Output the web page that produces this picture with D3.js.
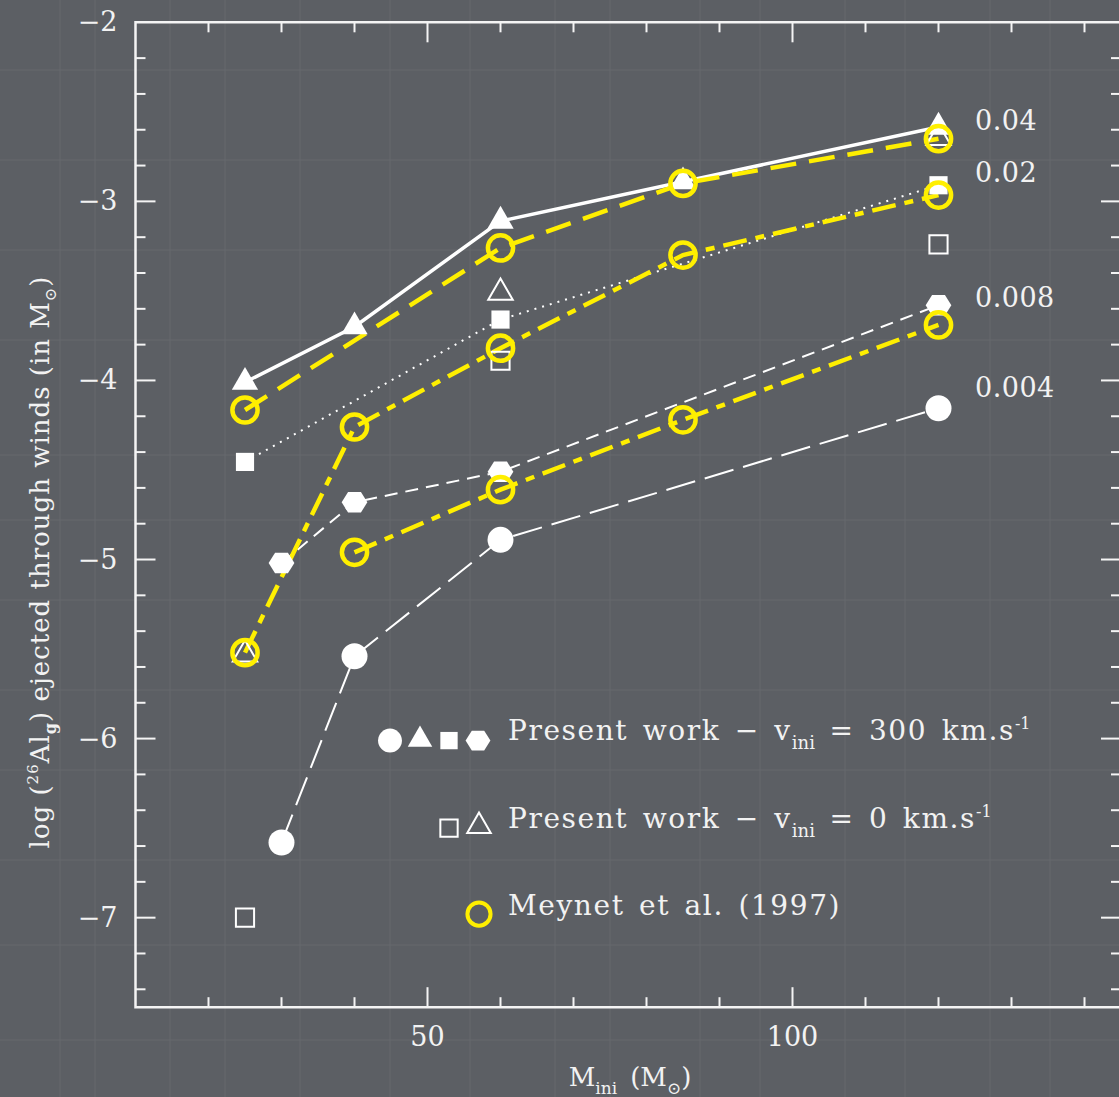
<!DOCTYPE html>
<html><head><meta charset="utf-8">
<script src="https://cdn.jsdelivr.net/npm/d3@7"></script>
<style>
html,body{margin:0;padding:0;background:#5c5f64;}
svg{display:block;}
text{font-family:"DejaVu Serif","Liberation Serif",serif;fill:#f2f2f2;}
</style></head>
<body>
<script>
// ---------- DATA ----------
const xTicksMajor = [50, 100];
const yTickLabels = [-2, -3, -4, -5, -6, -7];
const zLabels = ["0.04", "0.02", "0.008", "0.004"];
const zLabelValues = [-2.55, -2.84, -3.54, -4.04];

// Present work, v_ini = 300 km/s (filled symbols)
const rotZ004Mass = [25, 40, 60, 85, 120];
const rotZ004Val  = [-4.01, -3.70, -3.11, -2.89, -2.585];
const rotZ002Mass = [25, 60, 120];
const rotZ002Val  = [-4.455, -3.66, -2.91];
const rotZ0008Mass = [30, 40, 60, 120];
const rotZ0008Val  = [-5.02, -4.68, -4.51, -3.58];
const rotZ0004Mass = [30, 40, 60, 120];
const rotZ0004Val  = [-6.58, -5.54, -4.89, -4.155];

// Present work, v_ini = 0 (open symbols)
const norotSqMass = [25, 60, 120];
const norotSqVal  = [-7.0, -3.89, -3.24];
const norotTriMass = [25, 60, 120];
const norotTriVal  = [-5.53, -3.51, -2.645];

// Meynet et al. (1997)
const mey004Mass = [25, 60, 85, 120];
const mey004Val  = [-4.165, -3.26, -2.90, -2.65];
const mey002Mass = [25, 40, 60, 85, 120];
const mey002Val  = [-5.52, -4.26, -3.82, -3.30, -2.965];
const mey0008Mass = [40, 60, 85, 120];
const mey0008Val  = [-4.96, -4.61, -4.22, -3.69];

// ---------- CHART ----------
const W = 1119, H = 1097;
const svg = d3.select("body").append("svg").attr("width", W).attr("height", H);
svg.append("rect").attr("width", W).attr("height", H).attr("fill", "#5c5f64");

// subtle texture
const tex = svg.append("g").attr("opacity", 0.06).attr("stroke", "#ffffff");
const texX = [60, 95, 170, 225, 300, 390, 470, 555, 610, 700, 760, 845, 905, 990, 1050];
const texY = [70, 160, 250, 340, 455, 520, 600, 690, 770, 860, 945, 1040];
texX.forEach(v => tex.append("line").attr("x1", v).attr("x2", v).attr("y1", 0).attr("y2", H).attr("stroke-width", 1));
texY.forEach(v => tex.append("line").attr("x1", 0).attr("x2", W).attr("y1", v).attr("y2", v).attr("stroke-width", 1));

const x = d3.scaleLinear().domain([10, 145]).range([135.5, 1121]);
const y = d3.scaleLinear().domain([-2, -7.5]).range([22.3, 1007.2]);

const axisColor = "#f4f4f4";
const ax = svg.append("g");
ax.append("path")
  .attr("d", `M${x(145)},${y(-2)}H${x(10)}V${y(-7.5)}H${x(145)}V${y(-2)}`)
  .attr("fill", "none").attr("stroke", axisColor).attr("stroke-width", 2.5);

const xMinor = d3.range(20, 145, 10);
const yMinor = d3.range(-2.2, -7.45, -0.2);
function isMajorX(v){ return Math.abs(v % 50) < 1e-6; }
function isMajorY(v){ return Math.abs(v - Math.round(v)) < 1e-6; }
xMinor.forEach(v => {
  const L = isMajorX(v) ? 20 : 10;
  ax.append("line").attr("x1", x(v)).attr("x2", x(v)).attr("y1", y(-7.5)).attr("y2", y(-7.5) - L)
    .attr("stroke", axisColor).attr("stroke-width", 2);
  ax.append("line").attr("x1", x(v)).attr("x2", x(v)).attr("y1", y(-2)).attr("y2", y(-2) + L)
    .attr("stroke", axisColor).attr("stroke-width", 2);
});
yMinor.forEach(v => {
  const L = isMajorY(v) ? 20 : 10;
  ax.append("line").attr("x1", x(10)).attr("x2", x(10) + L).attr("y1", y(v)).attr("y2", y(v))
    .attr("stroke", axisColor).attr("stroke-width", 2);
  ax.append("line").attr("x1", x(145)).attr("x2", x(145) - L).attr("y1", y(v)).attr("y2", y(v))
    .attr("stroke", axisColor).attr("stroke-width", 2);
});
yTickLabels.forEach(v => {
  ax.append("text").attr("x", x(10) - 18).attr("y", y(v) + 9).attr("text-anchor", "end")
    .attr("font-size", 27).text("\u2212" + Math.abs(v));
});
xTicksMajor.forEach(v => {
  ax.append("text").attr("x", x(v)).attr("y", 1046).attr("text-anchor", "middle")
    .attr("font-size", 27).text(v);
});

// axis titles
const xt = svg.append("text").attr("x", 630).attr("y", 1086).attr("text-anchor", "middle").attr("font-size", 26);
xt.append("tspan").text("M");
xt.append("tspan").attr("font-size", 17).attr("dy", 8).text("ini");
xt.append("tspan").attr("dy", -8).text("\u2002(M");
xt.append("tspan").attr("font-size", 17).attr("dy", 8).text("\u2299");
xt.append("tspan").attr("dy", -8).text(")");

const yt = svg.append("text").attr("transform", "translate(49,562) rotate(-90)")
  .attr("text-anchor", "middle").attr("font-size", 26).attr("letter-spacing", 1);
yt.append("tspan").text("log (");
yt.append("tspan").attr("font-size", 15).attr("dy", -11).text("26");
yt.append("tspan").attr("dy", 11).text("Al");
yt.append("tspan").attr("font-size", 16).attr("dy", 7).attr("font-weight", "bold").text("g");
yt.append("tspan").attr("dy", -7).text(") ejected through winds (in M");
yt.append("tspan").attr("font-size", 16).attr("dy", 7).text("\u2299");
yt.append("tspan").attr("dy", -7).text(")");

// ---------- LINES ----------
const line = d3.line().x(d => x(d[0])).y(d => y(d[1]));
function zip(a, b){ return a.map((m, i) => [m, b[i]]); }
const lines = svg.append("g").attr("fill", "none").attr("stroke-linecap", "butt");

lines.append("path").attr("d", line(zip(rotZ004Mass, rotZ004Val)))
  .attr("stroke", "#ffffff").attr("stroke-width", 3.5);
lines.append("path").attr("d", line(zip(rotZ002Mass, rotZ002Val)))
  .attr("stroke", "#ffffff").attr("stroke-width", 2).attr("stroke-dasharray", "2,6");
lines.append("path").attr("d", line(zip(rotZ0008Mass, rotZ0008Val)))
  .attr("stroke", "#ffffff").attr("stroke-width", 2).attr("stroke-dasharray", "13,8");
lines.append("path").attr("d", line(zip(rotZ0004Mass, rotZ0004Val)))
  .attr("stroke", "#ffffff").attr("stroke-width", 2).attr("stroke-dasharray", "30,10");

const yellow = "#ffef00";
lines.append("path").attr("d", line(zip(mey004Mass, mey004Val)))
  .attr("stroke", yellow).attr("stroke-width", 4.5).attr("stroke-dasharray", "26,13");
lines.append("path").attr("d", line(zip(mey002Mass, mey002Val)))
  .attr("stroke", yellow).attr("stroke-width", 4.5).attr("stroke-dasharray", "24,9,9,9");
lines.append("path").attr("d", line(zip(mey0008Mass, mey0008Val)))
  .attr("stroke", yellow).attr("stroke-width", 4.5).attr("stroke-dasharray", "24,9,9,9");

// ---------- SYMBOLS ----------
const hexagon = {
  draw(ctx, size) {
    const r = Math.sqrt(size / (1.5 * Math.sqrt(3)));
    for (let i = 0; i < 6; i++) {
      const a = i * Math.PI / 3;
      const px = r * Math.cos(a), py = r * Math.sin(a) * 0.92;
      if (i === 0) ctx.moveTo(px, py); else ctx.lineTo(px, py);
    }
    ctx.closePath();
  }
};
const sym = svg.append("g");
function drawSymbols(mass, vals, type, size, filled, color, sw) {
  const gen = d3.symbol().type(type).size(size);
  sym.selectAll(null).data(zip(mass, vals)).enter().append("path")
    .attr("d", gen)
    .attr("transform", d => `translate(${x(d[0])},${y(d[1])})`)
    .attr("fill", filled ? color : "none")
    .attr("stroke", filled ? "none" : color)
    .attr("stroke-width", sw || 0);
}
drawSymbols(norotSqMass, norotSqVal, d3.symbolSquare, 330, false, "#ffffff", 2);
drawSymbols(norotTriMass, norotTriVal, d3.symbolTriangle, 260, false, "#ffffff", 2);
drawSymbols(rotZ004Mass, rotZ004Val, d3.symbolTriangle, 300, true, "#ffffff");
drawSymbols(rotZ002Mass, rotZ002Val, d3.symbolSquare, 330, true, "#ffffff");
drawSymbols(rotZ0008Mass, rotZ0008Val, hexagon, 430, true, "#ffffff");
drawSymbols(rotZ0004Mass, rotZ0004Val, d3.symbolCircle, 530, true, "#ffffff");
drawSymbols(mey004Mass, mey004Val, d3.symbolCircle, 500, false, yellow, 4.5);
drawSymbols(mey002Mass, mey002Val, d3.symbolCircle, 500, false, yellow, 4.5);
drawSymbols(mey0008Mass, mey0008Val, d3.symbolCircle, 500, false, yellow, 4.5);

// Z labels
zLabels.forEach((t, i) => {
  svg.append("text").attr("x", 975).attr("y", y(zLabelValues[i]) + 9).attr("font-size", 27)
    .attr("letter-spacing", 0.5).text(t);
});

// ---------- LEGEND ----------
const leg = svg.append("g");
const legRows = [
  { text1: "Present work \u2212 v", sub: "ini", text2: " = 300 km.s", sup: "-1" },
  { text1: "Present work \u2212 v", sub: "ini", text2: " = 0 km.s", sup: "-1" },
  { text1: "Meynet et al. (1997)" }
];
const legX = 508;
function legSym(cx, cy, type, size, filled, color, sw){
  leg.append("path").attr("d", d3.symbol().type(type).size(size)())
    .attr("transform", `translate(${cx},${cy})`)
    .attr("fill", filled ? color : "none").attr("stroke", filled ? "none" : color).attr("stroke-width", sw || 0);
}
const ly1 = y(-6.0), ly2 = y(-6.5) - 10, ly3 = y(-6.98);
legSym(390, ly1 + 2, d3.symbolCircle, 450, true, "#fff");
legSym(420, ly1 + 1, d3.symbolTriangle, 260, true, "#fff");
legSym(449, ly1 + 2, d3.symbolSquare, 300, true, "#fff");
legSym(478, ly1 + 2, hexagon, 400, true, "#fff");
legSym(449, ly2 + 10, d3.symbolSquare, 300, false, "#fff", 2);
legSym(479, ly2 + 8, d3.symbolTriangle, 240, false, "#fff", 2);
legSym(479, ly3, d3.symbolCircle, 420, false, yellow, 4);

const legYs = [ly1 + 1, ly2 + 10, ly3 + 1];
legRows.forEach((r, i) => {
  const t = leg.append("text").attr("x", legX).attr("y", legYs[i]).attr("font-size", 28)
    .attr("letter-spacing", 1.6).attr("word-spacing", 4);
  t.append("tspan").text(r.text1);
  if (r.sub) {
    t.append("tspan").attr("font-size", 18).attr("dy", 9).attr("letter-spacing", 0).text(r.sub);
    t.append("tspan").attr("dy", -9).attr("letter-spacing", 1.6).text(r.text2);
    t.append("tspan").attr("font-size", 16).attr("dy", -11).attr("letter-spacing", 0).text(r.sup);
  }
});
</script>
</body></html>
